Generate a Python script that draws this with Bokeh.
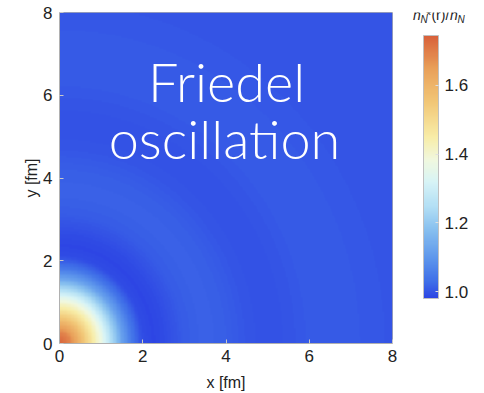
import numpy as np
from bokeh.plotting import figure
from bokeh.layouts import row
from bokeh.models import (LinearColorMapper, ColorBar, FixedTicker, PrintfTickFormatter,
                          Label, Range1d)
from bokeh.embed import file_html
from bokeh.resources import INLINE

# ---- data ----
# radial profile n_N*(r)/n_N along r [fm]
r_fm = [0.0, 0.25, 0.5, 0.75, 1.0, 1.25, 1.5, 1.75, 2.0, 2.25, 2.5, 2.75,
        3.0, 3.5, 4.0, 4.5, 5.0, 5.5, 6.0, 7.0, 8.0, 12.0]
ratio = [1.74, 1.69, 1.59, 1.48, 1.37, 1.24, 1.12, 1.04, 0.99, 0.982, 0.988, 0.998,
         1.008, 1.015, 1.01, 1.0, 0.995, 0.999, 1.005, 1.005, 1.0, 1.0]
y_stretch = 1.05          # contours slightly elongated along y
x_ticks = [0, 2, 4, 6, 8]
y_ticks = [0, 2, 4, 6, 8]
cbar_ticks = [1.0, 1.2, 1.4, 1.6]
cbar_low, cbar_high = 0.98, 1.745
annotation_lines = ["Friedel", "oscillation"]

# colour scale anchors (value -> colour)
anchor_vals = [0.98, 1.03, 1.10, 1.18, 1.25, 1.32, 1.38, 1.45, 1.55, 1.65, 1.745]
anchor_cols = ["#2d45e4", "#4070e8", "#5f98ec", "#88c0ef", "#b4e0f5", "#d8f4f6",
               "#f0f8e0", "#f8eda8", "#f2c878", "#e9a05a", "#d8603a"]

def hex2rgb(h):
    return [int(h[i:i + 2], 16) for i in (1, 3, 5)]

rgb = np.array([hex2rgb(c) for c in anchor_cols], dtype=float)
grid_v = np.linspace(cbar_low, cbar_high, 256)
palette = []
for v in grid_v:
    r, g, b = (np.interp(v, anchor_vals, rgb[:, k]) for k in range(3))
    palette.append("#%02x%02x%02x" % (int(round(r)), int(round(g)), int(round(b))))

mapper = LinearColorMapper(palette=palette, low=cbar_low, high=cbar_high)

n = 240
cent = (np.arange(n) + 0.5) * 8.0 / n
X, Y = np.meshgrid(cent, cent)
R = np.sqrt(X ** 2 + (Y / y_stretch) ** 2)
Z = np.interp(R, r_fm, ratio)

H = 393
TOP, BOT = 12, 343        # frame top / bottom (page px)
p = figure(width=400, height=H, x_range=(0, 8), y_range=(0, 8),
           output_backend="svg", toolbar_location=None,
           min_border_left=59, min_border_right=8, min_border_top=TOP,
           min_border_bottom=H - BOT)
p.image(image=[Z], x=0, y=0, dw=8, dh=8, color_mapper=mapper)

p.grid.visible = False
p.outline_line_color = "#b0b0b0"

FONT = "Liberation Sans"
for ax, lab, ticks in ((p.xaxis, "x [fm]", x_ticks), (p.yaxis, "y [fm]", y_ticks)):
    ax.ticker = FixedTicker(ticks=ticks)
    ax.axis_label = lab
    ax.axis_label_text_font = FONT
    ax.axis_label_text_font_style = "normal"
    ax.axis_label_text_font_size = "16px"
    ax.axis_label_text_color = "#222222"
    ax.major_label_text_font = FONT
    ax.major_label_text_font_size = "17px"
    ax.major_label_text_color = "#222222"
    ax.axis_line_color = "#b0b0b0"
    ax.major_tick_line_color = "#c8c8c8"
    ax.major_tick_in = 4
    ax.major_tick_out = 0
    ax.minor_tick_line_color = "#d8d8d8"
    ax.minor_tick_in = 2
    ax.minor_tick_out = 0
p.xaxis.major_label_standoff = 6
p.xaxis.axis_label_standoff = 9
p.yaxis.major_label_standoff = 7
p.yaxis.axis_label_standoff = 0

def dx(px):
    return (px - 59) / (333 / 8.0)

def dy(py):
    return (BOT - py) / ((BOT - TOP) / 8.0)

for txt, px, py in ((annotation_lines[0], 226, 81), (annotation_lines[1], 224, 138)):
    p.add_layout(Label(x=dx(px), y=dy(py), text=txt, text_font="Lato Light, Lato",
                       text_font_size="54px", text_color="white",
                       text_align="center", text_baseline="alphabetic"))

# ---- colour-bar panel (its frame is aligned with the main frame: TOP..BOT) ----
W2 = 84
p2 = figure(width=W2, height=H, x_range=Range1d(0, W2), y_range=Range1d(H - BOT, H - TOP),
            output_backend="svg", toolbar_location=None,
            x_axis_location=None, y_axis_location=None,
            min_border_left=0, min_border_right=0,
            min_border_top=TOP, min_border_bottom=H - BOT)
p2.outline_line_color = None
p2.grid.visible = False

cb = ColorBar(color_mapper=mapper, location=(23, BOT - 298), width=15, height=263, padding=0,
              ticker=FixedTicker(ticks=cbar_ticks), formatter=PrintfTickFormatter(format="%.1f"),
              major_label_text_font=FONT, major_label_text_font_size="17px",
              major_label_text_color="#222222", label_standoff=6,
              major_tick_line_color="#e0e0e0", major_tick_in=3, major_tick_out=0,
              minor_tick_line_color=None,
              bar_line_color="#c0c0c0", background_fill_alpha=0, border_line_color=None)
p2.add_layout(cb, "center")

# colour bar title  n_N*(r)/n_N  (x relative to page x = 400, y = page y)
title_parts = [("n", 12.5, 14.5, "14px", "italic"), ("N", 20, 19.0, "10px", "italic"),
               ("*(r)/", 25.5, 14.5, "14px", "normal"), ("n", 49.5, 14.5, "14px", "italic"),
               ("N", 57, 19.0, "10px", "italic")]
for txt, px, py, fs, st in title_parts:
    p2.add_layout(Label(x=px, y=H - py, text=txt, text_font=FONT, text_font_size=fs,
                        text_font_style=st, text_color="#222222", text_baseline="alphabetic",
                        text_align="left"))

layout = row(p, p2)
open("out.html", "w").write(file_html(layout, INLINE))
